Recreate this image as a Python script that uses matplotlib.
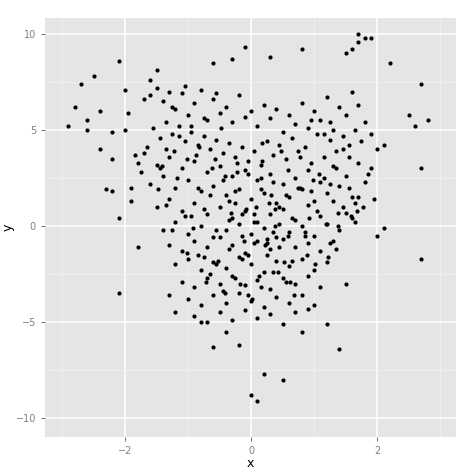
import matplotlib
matplotlib.use("Agg")
import matplotlib.pyplot as plt

x = [-2.9,-2.8,-2.7,-2.6,-2.6,-2.5,-2.4,-2.4,-2.3,-2.2,-2.2,-2.2,-2.1,-2.1,-2.1,-2.0,-2.0,-1.9,-1.9,-1.8,-1.8,-1.7,-1.6,-1.5,-0.6,-0.3,-0.1,0.3,0.8,1.5,1.6,1.7,1.7,1.8,1.9,2.2,2.7,2.8,2.5,2.6,2.0,2.1,2.0,2.1,2.7,2.7,0.0,0.1,0.2,0.5,-0.2,-0.6,-0.4,1.4,1.2,-0.8,-1.2,-1.3,1.5,0.8,
     -1.6,-1.5,-1.4,-1.3,-1.2,-1.1,-1.0,-0.9,-0.8,-0.7,-0.6,-0.5,-0.4,-0.3,-0.2,-0.1,0.0,0.1,0.2,0.3,0.4,0.5,0.6,0.7,0.8,0.9,1.0,1.1,1.2,1.3,1.4,1.5,1.6,1.7,1.8,1.9,
     -1.55,-1.45,-1.35,-1.25,-1.15,-1.05,-0.95,-0.85,-0.75,-0.65,-0.55,-0.45,-0.35,-0.25,-0.15,-0.05,0.05,0.15,0.25,0.35,0.45,0.55,0.65,0.75,0.85,0.95,1.05,1.15,1.25,1.35,1.45,1.55,1.65,1.75,
     -1.7,-1.5,-1.3,-1.1,-0.9,-0.7,-0.5,-0.3,-0.1,0.1,0.3,0.5,0.7,0.9,1.1,1.3,1.5,1.7,1.9,
     -1.6,-1.4,-1.2,-1.0,-0.8,-0.6,-0.4,-0.2,0.0,0.2,0.4,0.6,0.8,1.0,1.2,1.4,1.6,1.8,
     -1.5,-1.3,-1.1,-0.9,-0.7,-0.5,-0.3,-0.1,0.1,0.3,0.5,0.7,0.9,1.1,1.3,1.5,1.7,
     -1.4,-1.2,-1.0,-0.8,-0.6,-0.4,-0.2,0.0,0.2,0.4,0.6,0.8,1.0,1.2,1.4,1.6,
     -1.3,-1.1,-0.9,-0.7,-0.5,-0.3,-0.1,0.1,0.3,0.5,0.7,0.9,1.1,1.3,
     -1.2,-1.0,-0.8,-0.6,-0.4,-0.2,0.0,0.2,0.4,0.6,0.8,1.0,1.2,
     -1.1,-0.9,-0.7,-0.5,-0.3,-0.1,0.1,0.3,0.5,0.7,0.9,1.1,
     -1.0,-0.8,-0.6,-0.4,-0.2,0.0,0.2,0.4,0.6,0.8,1.0,
     -0.9,-0.7,-0.5,-0.3,-0.1,0.1,0.3,0.5,0.7,0.9,
     -0.35,-0.15,0.05,0.25,0.45,-0.25,-0.05,0.15,0.35,0.12,-0.08,0.28,-0.42,0.52,
     -1.75,-1.65,-1.95,-1.85,-1.45,-1.35,-1.25,-1.05,-0.85,-0.65,1.25,1.45,1.65,1.85,1.95,1.55,1.35,
     -0.58,-0.22,0.18,0.48,0.78,1.08,1.38,1.68,-0.88,-1.18,-1.48,-0.48,0.02,0.62,0.92,1.22,
     -0.12,0.08,0.22,0.38,-0.32,0.42,-0.18,0.32,0.58,-0.52,0.68,-0.72,0.88,-0.92,1.02,-1.02,
     -0.95,-0.75,-0.55,-0.35,-0.15,0.05,0.25,0.45,0.65,0.85,1.05,1.25,-0.85,-0.65,-0.45,-0.25,-0.05,0.15,0.35,0.55,0.75,0.95,1.15,
     -0.75,-0.55,-0.35,-0.15,0.05,0.25,0.45,0.65,0.85,-0.45,-0.25,-0.05,0.15,0.35,0.55,
     -1.35,-1.15,-0.95,-0.75,-0.55,1.35,1.55,1.15,0.95,-1.25,-1.05,1.45,1.25,1.65,
     -1.42,-1.22,-1.02,-0.82,-0.62,-0.42,-0.22,0.18,0.38,0.58,0.78,0.98,1.18,1.38,1.58,1.78]
y = [5.2,6.2,7.4,5.5,5.0,7.8,6.0,4.0,1.9,1.8,3.5,4.9,-3.5,0.4,8.6,7.1,5.0,2.0,1.3,-1.1,3.3,6.6,7.6,8.1,8.5,8.7,9.3,8.8,9.2,9.0,9.2,9.6,10.0,9.8,9.8,8.5,7.4,5.5,5.8,5.2,4.0,4.2,-0.5,-0.1,3.0,-1.7,-8.8,-9.1,-7.7,-8.0,-6.2,-6.3,-5.5,-6.4,-5.1,-5.0,-4.5,-3.6,-3.0,-5.5,
     6.8,7.2,6.5,7.0,6.1,6.9,5.8,6.4,7.1,5.5,6.6,5.9,6.2,5.4,6.8,5.7,6.0,5.2,6.3,5.6,6.1,4.9,5.8,5.3,6.4,5.1,6.0,5.5,6.7,5.0,6.2,5.8,7.0,6.3,5.4,4.8,
     5.1,4.6,5.4,4.8,5.2,4.4,4.9,4.2,4.7,4.0,4.5,3.8,4.3,3.6,4.1,3.4,3.9,3.2,4.4,3.7,4.2,3.5,4.6,3.9,4.1,3.3,4.8,3.6,4.5,3.9,4.7,4.2,5.0,4.4,
     3.8,3.2,3.6,3.0,3.4,2.8,3.1,2.6,2.9,2.4,2.7,2.2,2.5,2.9,2.3,3.1,2.6,3.3,3.0,
     2.2,2.6,2.0,2.4,1.8,2.1,1.6,1.9,1.4,1.7,1.2,1.5,1.9,1.3,1.7,2.1,1.5,2.3,
     1.0,1.4,0.8,1.2,0.6,1.0,0.4,0.8,0.2,0.6,0.9,0.3,1.1,0.5,1.3,0.7,1.5,
     -0.2,0.2,-0.4,0.0,-0.6,-0.2,0.1,-0.4,-0.1,-0.6,-0.3,0.0,-0.5,0.1,-0.2,0.4,
     -1.0,-1.3,-0.8,-1.1,-0.6,-1.0,-1.4,-0.8,-1.2,-0.7,-1.1,-0.9,-1.3,-0.8,
     -2.0,-1.7,-2.3,-1.9,-2.2,-1.6,-2.0,-2.4,-1.8,-2.1,-1.7,-2.3,-1.9,
     -2.9,-3.2,-2.7,-3.0,-2.6,-3.1,-2.8,-3.3,-2.7,-3.0,-2.6,-3.2,
     -3.8,-4.1,-3.6,-4.0,-3.5,-3.9,-4.2,-3.7,-4.0,-3.6,-4.1,
     -4.7,-5.0,-4.5,-4.9,-4.4,-4.8,-4.6,-5.1,-4.5,-4.3,
     0.3,-0.5,0.6,-0.9,0.1,1.8,-1.5,2.5,-0.3,-2.6,0.9,1.2,-3.5,-1.9,
     2.8,4.1,5.9,3.7,3.0,1.1,-0.2,0.5,-1.5,-2.5,2.2,1.0,0.2,2.7,1.4,3.6,-1.2,
     3.5,2.8,4.3,3.9,2.0,2.7,0.0,0.8,3.7,2.5,1.9,5.1,-3.8,-2.9,0.4,-1.6,
     -0.8,1.0,-1.0,0.0,0.7,-2.4,-3.0,1.6,-0.5,-1.8,-3.6,-2.9,-1.5,-0.1,-2.0,-1.4,
     0.5,0.9,-0.2,1.3,0.6,0.2,-0.7,1.0,0.4,-0.3,0.8,-0.9,2.0,1.6,2.4,1.2,2.7,1.9,2.3,1.6,2.0,1.8,2.5,
     -1.6,-2.0,-1.2,-1.7,-0.9,-1.5,-1.1,-1.8,-0.5,-3.4,-2.7,-3.6,-3.2,-2.4,-2.9,
     4.0,4.7,5.2,5.6,6.9,3.0,2.0,4.8,5.5,6.2,7.3,4.0,5.4,1.2,
     3.1,3.9,3.5,4.1,3.0,2.6,3.3,3.4,0.9,2.9,3.6,2.4,0.1,0.7,0.5,1.0]

fig = plt.figure(figsize=(4.74, 4.74), dpi=100)
ax = fig.add_axes([45/474, 37/474, 411/474, 419/474])
ax.set_facecolor("#E5E5E5")
ax.scatter(x, y, s=9, c="black", linewidths=0, zorder=3)
ax.set_xlim(-3.27, 3.25)
ax.set_ylim(-10.99, 10.83)
ax.set_xticks([-2, 0, 2])
ax.set_yticks([-10, -5, 0, 5, 10])
ax.set_xticks([-3, -1, 1, 3], minor=True)
ax.set_yticks([-7.5, -2.5, 2.5, 7.5], minor=True)
ax.grid(which="major", color="white", linewidth=1.1, zorder=0)
ax.grid(which="minor", color="#F2F2F2", linewidth=0.5, zorder=0)
for s in ax.spines.values():
    s.set_visible(False)
ax.tick_params(which="both", length=3, color="#7F7F7F", labelsize=7, labelcolor="#7F7F7F")
ax.tick_params(which="minor", length=0)
ax.set_xlabel("x", fontsize=9, labelpad=1)
ax.set_ylabel("y", fontsize=9, labelpad=1)
fig.savefig("out.png", dpi=100)
